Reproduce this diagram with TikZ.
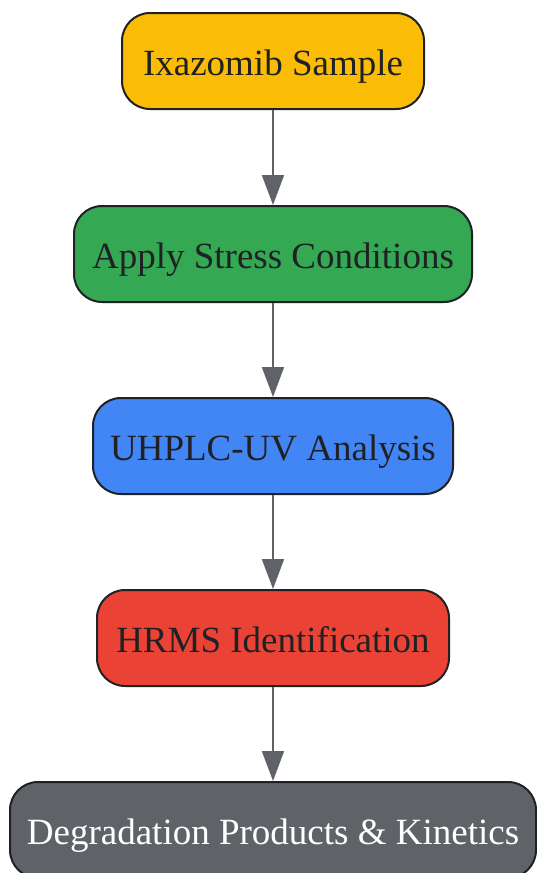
\documentclass[tikz,border=0pt]{standalone}
\usepackage{fontspec}
\setmainfont{Liberation Serif}
\usetikzlibrary{arrows.meta,positioning}
\definecolor{sampleyellow}{HTML}{FBBC05}
\definecolor{stressgreen}{HTML}{34A853}
\definecolor{uhplcblue}{HTML}{4285F4}
\definecolor{hrmsred}{HTML}{EA4335}
\definecolor{productgray}{HTML}{5F6368}
\definecolor{textdark}{HTML}{202124}

\begin{document}
\begin{tikzpicture}[x=1pt,y=-1pt,
	stepbox/.style={draw=textdark,line width=2pt,rounded corners=28pt,minimum height=96pt,inner sep=0pt,text height=30pt,text depth=2pt,text=textdark,font=\fontsize{37}{44}\selectfont},
	flow/.style={draw=productgray,line width=2pt,-{Triangle[length=30pt,width=22pt]}}]
	\useasboundingbox (0,0) rectangle (536,873);
	\node (sample) at (273,61)[stepbox,fill=sampleyellow,minimum width=302pt] {Ixazomib Sample};
	\node (stress) at (273,254)[stepbox,fill=stressgreen,minimum width=398pt] {Apply Stress Conditions};
	\node (uhplc) at (273,446)[stepbox,fill=uhplcblue,minimum width=360pt] {UHPLC-UV Analysis};
	\node (hrms) at (273,638)[stepbox,fill=hrmsred,minimum width=352pt] {HRMS Identification};
	\node (products) at (273,830)[stepbox,fill=productgray,text=white,minimum width=526pt] {Degradation Products \& Kinetics};
	\draw[flow] (sample)--(stress);
	\draw[flow] (stress)--(uhplc);
	\draw[flow] (uhplc)--(hrms);
	\draw[flow] (hrms)--(products);
\end{tikzpicture}
\end{document}
